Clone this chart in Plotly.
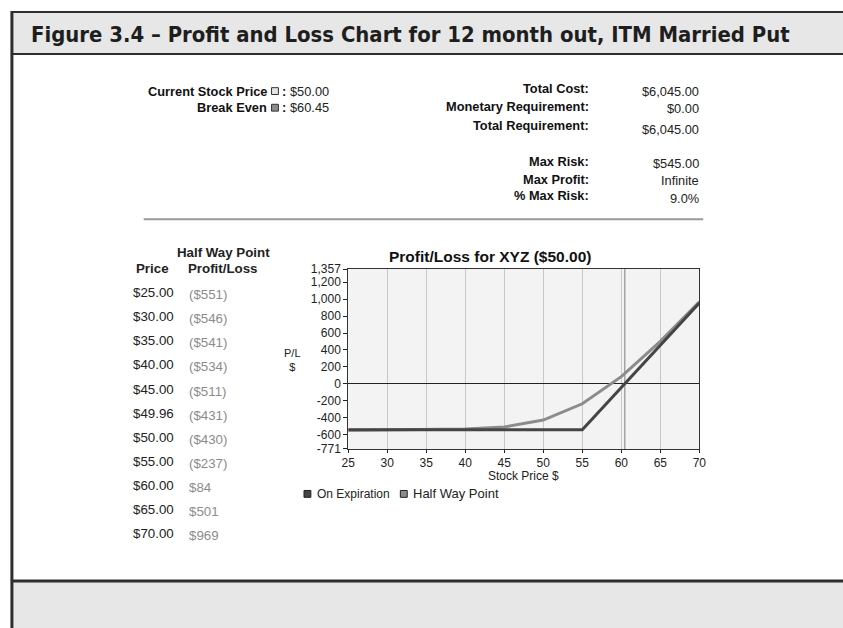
import plotly.graph_objects as go

# ---- data ----
price_labels = ["$25.00", "$30.00", "$35.00", "$40.00", "$45.00", "$49.96", "$50.00",
                "$55.00", "$60.00", "$65.00", "$70.00"]
halfway_prices = [25, 30, 35, 40, 45, 49.96, 50, 55, 60, 65, 70]
halfway_pl = [-551, -546, -541, -534, -511, -431, -430, -237, 84, 501, 969]
halfway_pl_labels = ["($551)", "($546)", "($541)", "($534)", "($511)", "($431)", "($430)",
                     "($237)", "$84", "$501", "$969"]
expiry_prices = [25, 55, 70]
expiry_pl = [-545, -545, 955]
break_even = 60.45
y_ticks = [1357, 1200, 1000, 800, 600, 400, 200, 0, -200, -400, -600, -771]
y_tick_text = ["1,357", "1,200", "1,000", "800", "600", "400", "200", "0", "-200", "-400", "-600", "-771"]
x_ticks = [25, 30, 35, 40, 45, 50, 55, 60, 65, 70]

summary_labels = ["Total Cost:", "Monetary Requirement:", "Total Requirement:",
                  "Max Risk:", "Max Profit:", "% Max Risk:"]
summary_values = ["$6,045.00", "$0.00", "$6,045.00", "$545.00", "Infinite", "9.0%"]

ARIAL = "Liberation Sans, Arial, sans-serif"

W, H = 843, 628


def px(x):
    return x / W


def py(y):
    return 1 - y / H


fig = go.Figure()
fig.add_trace(go.Scatter(x=halfway_prices, y=halfway_pl, mode="lines", name="Half Way Point",
                         line=dict(color="#8c8c8c", width=3)))
fig.add_trace(go.Scatter(x=expiry_prices, y=expiry_pl, mode="lines", name="On Expiration",
                         line=dict(color="#454545", width=3)))

shapes = []
ann = []

# frame / bands
shapes.append(dict(type="rect", xref="paper", yref="paper", x0=px(5), x1=1.05, y0=py(48), y1=py(5),
                   fillcolor="#e6e7e6", line=dict(width=0), layer="below"))
shapes.append(dict(type="rect", xref="paper", yref="paper", x0=px(5), x1=1.05, y0=-0.05, y1=py(587),
                   fillcolor="#e6e7e6", line=dict(width=0), layer="below"))
for yy, w in [(5, 2), (48, 2), (587, 3)]:
    shapes.append(dict(type="line", xref="paper", yref="paper", x0=px(4), x1=1.05, y0=py(yy), y1=py(yy),
                       line=dict(color="#2e2e2e", width=w)))
shapes.append(dict(type="line", xref="paper", yref="paper", x0=px(5), x1=px(5), y0=-0.05, y1=py(4),
                   line=dict(color="#2e2e2e", width=3)))
# separator
shapes.append(dict(type="line", xref="paper", yref="paper", x0=px(139), x1=px(708), y0=py(217), y1=py(217),
                   line=dict(color="#9a9a9a", width=2)))
# break-even line
shapes.append(dict(type="line", xref="x", yref="y domain", x0=break_even, x1=break_even, y0=0, y1=1,
                   line=dict(color="#909090", width=1.2), layer="below"))

# title
ann.append(dict(x=px(22), y=py(28), xref="paper", yref="paper", xanchor="left", yanchor="middle",
                text="<b>Figure 3.4 – Profit and Loss Chart for 12 month out, ITM Married Put</b>", showarrow=False,
                font=dict(family="Liberation Sans Narrow, DejaVu Sans Condensed, sans-serif", size=21.9,
                          color="#1e1e1e"), ))

LAB = 12.8
VAL = 12.8
# top-left info
for yy, lab, val, fill in [(86, "Current Stock Price", "$50.00", "#e4e4e4"), (103, "Break Even", "$60.45", "#8c8c8c")]:
    ann.append(dict(x=px(266), y=py(yy), xref="paper", yref="paper", xanchor="right", yanchor="middle",
                    text="<b>%s</b>" % lab, showarrow=False, font=dict(family=ARIAL, size=LAB, color="#111")))
    shapes.append(dict(type="rect", xref="paper", yref="paper", x0=px(269), x1=px(276), y0=py(yy + 3.5),
                       y1=py(yy - 3.5), fillcolor=fill, line=dict(color="#333", width=1)))
    ann.append(dict(x=px(278), y=py(yy), xref="paper", yref="paper", xanchor="left", yanchor="middle",
                    text="<b>:</b>", showarrow=False, font=dict(family=ARIAL, size=LAB, color="#111")))
    ann.append(dict(x=px(286), y=py(yy), xref="paper", yref="paper", xanchor="left", yanchor="middle",
                    text=val, showarrow=False, font=dict(family=ARIAL, size=VAL, color="#222")))

# top-right summary
lab_y = [83, 102, 121, 158, 176, 193]
val_y = [86, 104, 125, 160, 177, 196]
for lab, val, ly, vy in zip(summary_labels, summary_values, lab_y, val_y):
    ann.append(dict(x=px(594), y=py(ly), xref="paper", yref="paper", xanchor="right", yanchor="middle",
                    text="<b>%s</b>" % lab, showarrow=False, font=dict(family=ARIAL, size=LAB, color="#111")))
    ann.append(dict(x=px(706), y=py(vy), xref="paper", yref="paper", xanchor="right", yanchor="middle",
                    text=val, showarrow=False, font=dict(family=ARIAL, size=VAL, color="#222")))

# left table
TB = 13.3
ann.append(dict(x=px(220), y=py(251), xref="paper", yref="paper", xanchor="center", yanchor="middle",
                text="<b>Half Way Point</b>", showarrow=False, font=dict(family=ARIAL, size=TB, color="#222")))
ann.append(dict(x=px(148), y=py(267), xref="paper", yref="paper", xanchor="center", yanchor="middle",
                text="<b>Price</b>", showarrow=False, font=dict(family=ARIAL, size=TB, color="#222")))
ann.append(dict(x=px(219), y=py(267), xref="paper", yref="paper", xanchor="center", yanchor="middle",
                text="<b>Profit/Loss</b>", showarrow=False, font=dict(family=ARIAL, size=TB, color="#222")))
for i, (pl, vl) in enumerate(zip(price_labels, halfway_pl_labels)):
    yy = 292 + i * 24.7
    ann.append(dict(x=px(126), y=py(yy), xref="paper", yref="paper", xanchor="left", yanchor="middle",
                    text=pl, showarrow=False, font=dict(family=ARIAL, size=TB, color="#222")))
    ann.append(dict(x=px(183), y=py(yy + 2), xref="paper", yref="paper", xanchor="left", yanchor="middle",
                    text=vl, showarrow=False, font=dict(family=ARIAL, size=TB, color="#8c8c8c")))

# chart title and axis titles
ann.append(dict(x=px(491), y=py(255), xref="paper", yref="paper", xanchor="center", yanchor="middle",
                text="<b>Profit/Loss for XYZ ($50.00)</b>", showarrow=False,
                font=dict(family=ARIAL, size=15.5, color="#111")))
ann.append(dict(x=px(290), y=py(361), xref="paper", yref="paper", xanchor="center", yanchor="middle",
                text="P/L<br>$", showarrow=False, font=dict(family=ARIAL, size=11, color="#222")))
ann.append(dict(x=px(525), y=py(480), xref="paper", yref="paper", xanchor="center", yanchor="middle",
                text="Stock Price $", showarrow=False, font=dict(family=ARIAL, size=12, color="#222")))

# legend
for x0, name, fill, fs in [(302, "On Expiration", "#454545", 12), (400, "Half Way Point", "#8c8c8c", 13)]:
    shapes.append(dict(type="rect", xref="paper", yref="paper", x0=px(x0), x1=px(x0 + 7), y0=py(501.5),
                       y1=py(494.5), fillcolor=fill, line=dict(color="#222", width=1)))
    ann.append(dict(x=px(x0 + 11), y=py(498), xref="paper", yref="paper", xanchor="left", yanchor="middle",
                    text=name, showarrow=False, font=dict(family=ARIAL, size=fs, color="#222")))

fig.update_layout(
    width=W, height=H, margin=dict(l=0, r=0, t=0, b=0),
    paper_bgcolor="white", plot_bgcolor="#f3f3f3", showlegend=False,
    shapes=shapes, annotations=ann,
    xaxis=dict(domain=[px(347), px(704)], range=[25, 70], tickvals=x_ticks, ticks="outside", ticklen=3,
               tickcolor="#222", showgrid=True, gridcolor="#c9c9c9", gridwidth=1, showline=True,
               linecolor="#333", linewidth=1, mirror=True, zeroline=False,
               tickfont=dict(family=ARIAL, size=12, color="#222")),
    yaxis=dict(domain=[py(452), py(268)], range=[-771, 1357], tickvals=y_ticks, ticktext=y_tick_text,
               ticks="outside", ticklen=4, tickcolor="#222", showgrid=False, showline=True,
               linecolor="#333", linewidth=1, mirror=True, zeroline=True, zerolinecolor="#222",
               zerolinewidth=1, tickfont=dict(family=ARIAL, size=12, color="#222")),
)

fig.write_html("out.html", config={"displayModeBar": False},
               post_script="document.documentElement.style.overflow='hidden';"
                           "document.body.style.overflow='hidden';"
                           "document.body.style.margin='0px';document.body.style.padding='0px';")
